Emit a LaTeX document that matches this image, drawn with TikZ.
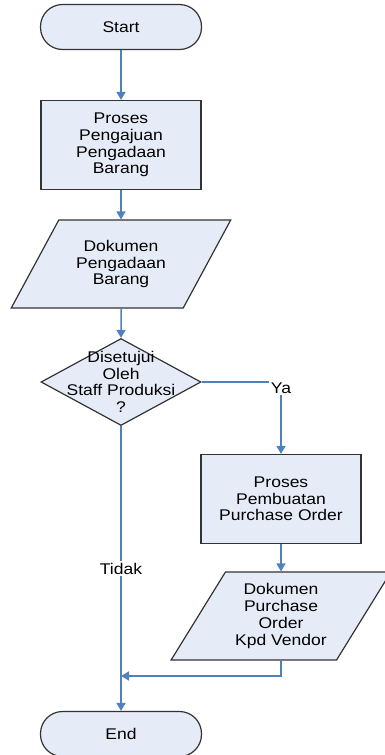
\documentclass[tikz,border=0pt]{standalone}
\usepackage{fontspec}
\setmainfont{Liberation Sans}[FakeStretch=1.13]
\usetikzlibrary{shapes.geometric,arrows.meta}
\definecolor{boxfill}{RGB}{230,236,247}
\definecolor{flowblue}{RGB}{79,129,189}
\definecolor{edgegray}{RGB}{51,51,51}

\begin{document}
\begin{tikzpicture}[x=1pt, y=1pt,
	every node/.style={font=\fontsize{15.5}{16.7}\selectfont, align=center},
	terminal/.style={rectangle, rounded corners=22pt, draw=edgegray, fill=boxfill, line width=1.2pt, minimum width=161pt, minimum height=45pt},
	process/.style={rectangle, draw=edgegray, fill=boxfill, line width=1.2pt, minimum width=160pt, minimum height=89pt},
	data/.style={trapezium, trapezium left angle=56, trapezium right angle=124, trapezium stretches=true, draw=edgegray, fill=boxfill, line width=1.2pt, minimum width=220pt, minimum height=88pt},
	decision/.style={diamond, draw=edgegray, fill=boxfill, line width=1.2pt, minimum width=160pt, minimum height=87pt, inner sep=0pt},
	flow/.style={draw=flowblue, line width=1.5pt, -{Triangle[length=8pt,width=9pt]}}]
			\useasboundingbox (0,0) rectangle (384,-755);
			\node[terminal](start) at (121,-27){Start};
			\node[process](pengajuan) at (121,-145){Proses\\Pengajuan\\Pengadaan\\Barang};
			\node[data](dokbarang) at (121,-264){Dokumen\\Pengadaan\\Barang};
			\node[decision, label={center}:{Disetujui\\Oleh\\Staff Produksi\\?}](setuju) at (121,-382){};
			\node[process](pembuatan) at (281,-499){Proses\\Pembuatan\\Purchase Order};
			\node[data](dokpo) at (281,-616){Dokumen\\Purchase\\Order\\Kpd Vendor};
			\node[terminal](end) at (121,-734){End};
			\coordinate (gabung) at (121,-676);
			\draw[flow] (start) -- (pengajuan);
			\draw[flow] (pengajuan) -- (dokbarang);
			\draw[flow] (dokbarang) -- (setuju);
			\draw[flow] (setuju.east) -| node[pos=0.5, fill=white, inner sep=2pt, yshift=-6pt]{Ya} (pembuatan.north);
			\draw[flow] (setuju.south) -- node[fill=white, inner sep=2pt]{Tidak} (end.north);
			\draw[flow] (pembuatan) -- (dokpo);
			\draw[flow] (dokpo.south) |- (gabung);
			\end{tikzpicture}
\end{document}
